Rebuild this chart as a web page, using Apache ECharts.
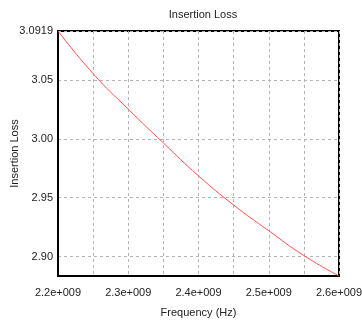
<!DOCTYPE html>
<html>
<head>
<meta charset="utf-8">
<script src="https://cdn.jsdelivr.net/npm/echarts@6/dist/echarts.min.js"></script>
<style>
  html, body { margin: 0; padding: 0; background: #fff; }
  #chart { width: 362px; height: 321px; }
</style>
</head>
<body>
<div id="chart"></div>
<script>
// frequency (Hz) and insertion loss
var freqs = [2.20e9, 2.25e9, 2.30e9, 2.35e9, 2.40e9, 2.45e9, 2.50e9, 2.55e9, 2.60e9];
var loss = [3.0919, 3.0556, 3.0254, 2.9966, 2.9686, 2.9438, 2.9219, 2.9008, 2.8834];
var yTicks = [2.90, 2.95, 3.00, 3.05, 3.0919];

var points = freqs.map(function (f, i) { return [f, loss[i]]; });
var font = 'Liberation Sans';
var gridLine = { show: true, lineStyle: { color: '#b4b4b4', type: [3, 3], width: 1 } };

var myChart = echarts.init(document.getElementById('chart'));
myChart.setOption({
    backgroundColor: '#fff',
    animation: false,
    title: {
        text: 'Insertion Loss',
        left: 198,
        textAlign: 'center',
        top: 4,
        textStyle: { fontFamily: font, fontSize: 11, fontWeight: 'normal', color: '#222' }
    },
    grid: {
        left: 58, right: 23, top: 31, bottom: 45,
        outerBoundsMode: 'none',
        containLabel: false,
        show: true,
        borderColor: '#000',
        borderWidth: 2
    },
    xAxis: {
        type: 'value',
        min: 2.2e9,
        max: 2.6e9,
        interval: 0.05e9,
        name: 'Frequency (Hz)',
        nameLocation: 'middle',
        nameGap: 31,
        nameMoveOverlap: false,
        nameTextStyle: { fontFamily: font, fontSize: 11, color: '#222' },
        axisLine: { show: true, lineStyle: { color: '#000', width: 2 } },
        axisTick: { show: false },
        axisLabel: {
            margin: 11,
            fontFamily: font, fontSize: 11, color: '#222',
            formatter: function (v) {
                var k = Math.round(v / 1e8);
                if (Math.abs(v / 1e8 - k) > 1e-6) return '';
                return (k / 10).toFixed(1) + 'e+009';
            }
        },
        splitLine: gridLine
    },
    yAxis: {
        type: 'value',
        min: 2.8834,
        max: 3.0919,
        name: 'Insertion Loss',
        nameLocation: 'middle',
        nameGap: 38,
        nameMoveOverlap: false,
        nameTextStyle: { fontFamily: font, fontSize: 11, color: '#222' },
        axisLine: { show: true, lineStyle: { color: '#000', width: 2 } },
        axisTick: { show: false, customValues: yTicks },
        axisLabel: {
            customValues: yTicks,
            margin: 5,
            fontFamily: font, fontSize: 11, color: '#222',
            formatter: function (v) {
                return Math.abs(v - 3.0919) < 1e-6 ? '3.0919' : v.toFixed(2);
            }
        },
        splitLine: gridLine
    },
    series: [{
        type: 'line',
        data: points,
        smooth: true,
        symbol: 'none',
        lineStyle: { color: '#ff5050', width: 1 }
    }]
});
</script>
</body>
</html>
